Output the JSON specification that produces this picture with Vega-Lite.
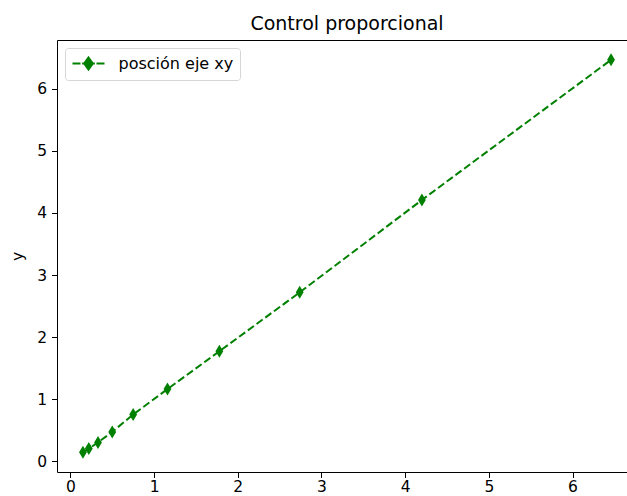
{
  "$schema": "https://vega.github.io/schema/vega-lite/v6.json",
  "autosize": "none",
  "width": 580,
  "height": 432,
  "padding": {"left": 57, "top": 40, "right": 0, "bottom": 24},
  "title": {"text": "Control proporcional", "fontSize": 19, "fontWeight": "normal", "font": "DejaVu Sans", "color": "black", "offset": 6, "anchor": "middle"},
  "config": {
    "view": {"stroke": "black", "strokeWidth": 1},
    "axis": {"grid": false, "domain": false, "tickColor": "black", "tickSize": 5.5, "tickWidth": 1, "labelFont": "DejaVu Sans", "labelFontSize": 15.5, "labelColor": "black", "labelPadding": 5, "titleFont": "DejaVu Sans", "titleFontSize": 15.5, "titleFontWeight": "normal", "titleColor": "black"}
  },
  "data": {"values": [
    {"x": 0.15, "y": 0.14, "s": "posción eje xy"},
    {"x": 0.22, "y": 0.2, "s": "posción eje xy"},
    {"x": 0.33, "y": 0.3, "s": "posción eje xy"},
    {"x": 0.5, "y": 0.47, "s": "posción eje xy"},
    {"x": 0.75, "y": 0.75, "s": "posción eje xy"},
    {"x": 1.16, "y": 1.16, "s": "posción eje xy"},
    {"x": 1.78, "y": 1.77, "s": "posción eje xy"},
    {"x": 2.74, "y": 2.72, "s": "posción eje xy"},
    {"x": 4.2, "y": 4.21, "s": "posción eje xy"},
    {"x": 6.46, "y": 6.47, "s": "posción eje xy"}
  ]},
  "encoding": {
    "x": {"field": "x", "type": "quantitative", "scale": {"domain": [-0.16, 6.77], "nice": false, "zero": false}, "axis": {"title": null, "values": [0, 1, 2, 3, 4, 5, 6], "labelPadding": 2}},
    "y": {"field": "y", "type": "quantitative", "scale": {"domain": [-0.177, 6.79], "nice": false, "zero": false}, "axis": {"title": "y", "values": [0, 1, 2, 3, 4, 5, 6], "titlePadding": 11}},
    "color": {"field": "s", "type": "nominal", "scale": {"range": ["#008000"]}, "legend": {
      "title": null, "orient": "top-left", "offset": 8, "padding": 6.5, "strokeColor": "#d6d6d6", "fillColor": "white", "cornerRadius": 3,
      "symbolType": "M-1,0H0M0.2,0H1.8M2,0H3M1,-0.75L1.54,0L1,0.75L0.46,0Z", "symbolSize": 256, "symbolFillColor": "#008000", "symbolStrokeColor": "#008000", "symbolStrokeWidth": 2, "symbolOpacity": 1,
      "labelFont": "DejaVu Sans", "labelFontSize": 16, "labelColor": "black", "labelOffset": 29
    }}
  },
  "layer": [
    {
      "mark": {"type": "line", "strokeDash": [7.5, 3.3], "strokeWidth": 2}
    },
    {
      "mark": {"type": "point", "filled": true, "opacity": 1, "shape": "M0,-1L0.6,0L0,1L-0.6,0Z", "size": 169, "strokeWidth": 0}
    }
  ]
}
